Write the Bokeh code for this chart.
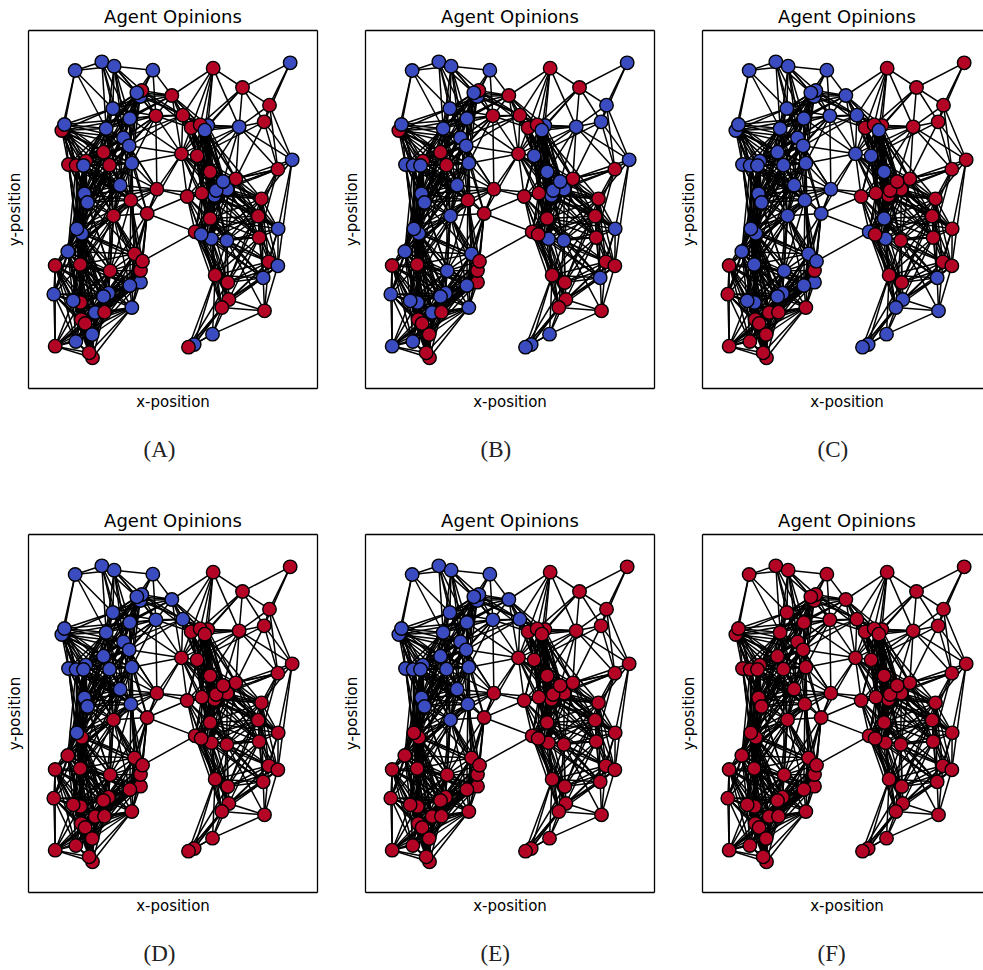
from bokeh.plotting import figure
from bokeh.layouts import column, row
from bokeh.models import Range1d, LinearAxis, FixedTicker, Title, ColumnDataSource
from bokeh.embed import file_html
from bokeh.resources import INLINE

NODE_IDS = [1,2,3,4,5,6,7,8,9,10,11,12,13,14,15,16,17,18,19,20,21,22,23,24,25,26,27,28,29,30,
            31,32,33,34,35,36,37,38,39,40,41,42,43,44,45,46,47,48,49,50,51,52,53,54,56,57,58,59,60,
            61,62,63,64,65,66,67,68,69,70,71,72,73,74,75,76,77,78,79,80,81,82,83,84,85,86,87,88,89,90,
            91,92,93,94,95,96,97,98,99,100]
NODE_X = [140,220,257,373,554,785,642,723,707,632,430,340,335,325,253,304,382,463,108,100,233,488,515,538,529,285,302,225,459,506,
          791,748,545,622,584,596,563,558,520,476,699,385,275,168,177,307,356,120,143,172,165,243,310,255,145,160,118,80,155,
          245,318,342,336,336,304,76,134,156,240,225,200,228,310,158,170,191,142,80,182,192,497,480,552,580,601,598,560,708,704,
          721,748,692,689,749,595,549,518,500,545]
NODE_Y = [120,94,107,119,113,97,171,224,274,289,195,180,198,187,234,264,256,254,282,300,294,292,283,285,299,322,346,365,370,376,
          388,416,424,445,453,476,480,495,488,498,505,476,464,490,516,509,549,402,405,392,405,404,398,556,595,609,663,705,702,
          721,670,692,720,755,765,791,811,816,788,798,846,845,831,867,879,912,933,947,967,982,942,950,911,831,807,756,734,841,742,
          694,706,621,557,595,630,625,612,604,564]

DRAW_ORDER = [1,2,3,4,5,6,7,8,9,10,11,13,12,14,15,16,17,18,20,19,21,22,24,23,25,26,27,28,29,30,31,32,33,34,
              38,36,37,35,39,40,41,42,43,44,45,46,47,48,50,49,51,52,53,54,57,56,58,59,60,61,65,64,62,63,66,67,
              69,68,70,71,72,73,74,75,76,77,78,79,81,80,82,83,84,86,85,87,88,89,90,91,92,93,94,95,96,97,99,98,100]

BLUE_A = [1,2,3,4,6,10,13,14,15,16,19,21,24,25,26,27,31,35,36,37,38,43,44,45,51,53,56,57,58,65,66,67,68,70,71,72,74,77,78,82,84,90,92,95,96,97,98]
BLUE_B = [1,2,3,4,6,8,9,10,13,14,15,16,19,21,24,25,26,27,30,31,33,35,36,37,38,43,44,45,48,49,51,53,54,56,57,58,61,62,66,67,68,69,70,71,72,74,78,79,82,83,84,90,95,96,97]
BLUE_C = [1,2,3,4,11,12,13,14,15,16,17,18,19,20,21,25,26,27,28,29,30,33,42,43,44,45,46,47,48,49,50,51,52,53,54,56,57,58,60,61,62,63,65,66,68,69,70,71,82,83,84,85,86,89,90,97,99,100]
BLUE_D = [1,2,3,4,11,12,13,14,15,16,17,18,19,20,21,26,27,28,43,44,45,46,48,49,50,51,52,53,56]
BLUE_E = [1,2,3,4,11,12,13,14,15,16,17,18,19,20,21,26,27,28,43,44,45,46,48,49,50,51,52,53,54]
BLUE_F = []
PANELS = [("(A)", BLUE_A), ("(B)", BLUE_B), ("(C)", BLUE_C), ("(D)", BLUE_D), ("(E)", BLUE_E), ("(F)", BLUE_F)]

ADJ = {
 1:[2,3,15,19,21,20],
 2:[3,14,15,21,16,26],
 3:[4,12,13,14,15,16,21,26,27],
 4:[11,12,13,14,17],
 5:[7,10,11,18,22,23,24,25],
 6:[7,8,9],
 7:[8,9,10,24,25,23],
 8:[9,10,31,32],
 9:[10,31,32,34,30],
 10:[22,23,24,25,29,30,31,32,33,34,35],
 11:[12,13,14,15,16,17,18,22,23,24,25,21,29,30],
 12:[13,14,15,16,17,18,21,26,27,22],
 13:[14,15,16,17,18,21,26,27,28,52,53],
 14:[15,16,17,18,21,26,27,28,52,53,50],
 15:[16,17,19,20,21,26,27,28,50,51],
 16:[17,18,19,20,21,26,27,28,29,52,53,50],
 17:[18,21,22,26,27,28,29,42,53,52],
 18:[22,23,24,25,26,27,29,30,33,35],
 19:[20,21,26,28,48,49,50,51,44,45,52],
 20:[21,28,44,45,48,49,50,51,52,26,27,53,43],
 21:[26,27,28,43,44,45,46,48,49,50,51,52,53,54],
 22:[23,24,25,29,30,33,35,36,37,38,39,100],
 23:[24,25,29,30,33,34,35,36,37,38,39,100],
 24:[25,30,33,34,35,36,37,38,39,100],
 25:[29,30,33,34,35,36,37,38,39,40,41,100],
 26:[27,28,42,43,44,45,46,48,49,50,51,52,53,54],
 27:[28,29,42,43,44,45,46,48,49,50,51,52,53,47,54,56],
 28:[43,44,45,46,48,49,50,51,52,53,54,56,57],
 29:[30,33,37,38,39,40,42,53,36,47,100],
 30:[33,35,36,37,38,39,40,34,100],
 31:[32,41,95,34,92],
 32:[34,35,36,41,94,93,37],
 33:[34,35,36,37,38,39,40,41,94,100,96,97,98,99],
 34:[35,36,37,38,39,41,93,94,95,100,96,97],
 35:[36,37,38,39,41,93,94,95,100,97,98],
 36:[37,38,39,41,93,94,95,96,97,100,98,99],
 37:[38,39,40,41,93,94,95,96,97,98,99,100],
 38:[39,40,41,93,94,95,96,97,98,99,100],
 39:[40,41,42,88,93,94,96,97,98,99,100],
 40:[42,47,88,97,98,99,100,96],
 41:[87,90,91,92,93,94,95,96,100,97],
 42:[43,44,45,46,47,52,53,54,62],
 43:[44,45,46,47,48,49,50,51,52,53,54,56,57,58,60],
 44:[45,46,48,49,50,51,52,53,54,56,57,58,60,61],
 45:[46,48,49,50,51,52,53,54,56,57,58,60,61,62],
 46:[47,48,49,50,51,52,53,54,56,57,58,60,61,62,63,64,65,66],
 47:[53,54,61,62,63,64,65,66,99,40],
 48:[49,50,51,52,56,57,43,60],
 49:[50,51,52,56,57,58,60],
 50:[51,52,53,56,57,54,60,58],
 51:[52,53,54,56,57,58,60],
 52:[53,54,56,57,58,60,61],
 53:[54,56,57,62],
 54:[56,57,58,59,60,61,62,63,64,66,65,68,70,71],
 56:[57,58,59,60,61,62,67,68,69,70,71,72,73,75,76],
 57:[58,59,60,61,62,63,66,67,68,69,70,71,72,73,75,76,77],
 58:[59,60,61,62,67,68,69,70,71,72,66,75,76,77],
 59:[60,61,67,68,69,70,71,72,75,76,77,78,79,80],
 60:[61,62,66,67,68,69,70,71,72,73,75,76,74,65,77],
 61:[62,63,64,65,66,68,69,70,71,72,73,74,75,76],
 62:[63,64,65,66,70,71,73,74,72],
 63:[64,65,66,70,71,73,74,99],
 64:[65,66,70,71,72,73,74,75],
 65:[66,70,71,72,73,74,76,77],
 66:[70,71,72,73,74,75,76,77,68,69],
 67:[68,69,70,71,72,73,75,76,78,79,77],
 68:[69,71,72,73,75,76,77,78,79,80],
 69:[70,71,72,73,75,76,77,78,79,80,81],
 70:[71,72,73,74,75,76,77,78],
 71:[72,73,74,75,76,77,78,80],
 72:[73,74,75,76,77,78,79,80,81],
 73:[74,75,76,77,78,79,80,81],
 74:[75,76,77,79,80,81],
 75:[76,77,78,79,80,81],
 76:[77,78,79,80,81],
 77:[78,79,80,81],
 78:[79,80,81],
 79:[80,81],
 80:[81],
 82:[83,84,85,86,88],
 83:[84,85,86,87,88],
 84:[85,86,88,89],
 85:[86,87,88,89,90,91],
 86:[87,88,89,90,91,92,93],
 87:[88,90,91,92,93,94,96,97,98,99],
 88:[90,91,93,94,96,97,98,99,100],
 89:[90,91,92,96],
 90:[91,92,93,94,95,96,97],
 91:[92,93,94,95,96,97],
 92:[93,94,95,96],
 93:[94,95,96,97,100],
 94:[95,96,97,98,100],
 95:[96,100],
 96:[85,86,97,98,99,100],
 97:[85,86,98,99,100],
 98:[85,86,90,99,100],
 99:[85,86,100],
 100:[87,90,91],
}

RED = "#b40426"
BLUE = "#3b4cc0"
pos = {n: (x, y) for n, x, y in zip(NODE_IDS, NODE_X, NODE_Y)}
pairs = sorted({(min(a, b), max(a, b)) for a, bs in ADJ.items() for b in bs})
edge_src = dict(x0=[pos[a][0] for a, b in pairs], y0=[pos[a][1] for a, b in pairs],
                x1=[pos[b][0] for a, b in pairs], y1=[pos[b][1] for a, b in pairs])


def blank_axis(**kw):
    return LinearAxis(ticker=FixedTicker(ticks=[]), major_label_text_font_size="0px",
                      major_tick_line_color=None, minor_tick_line_color=None,
                      major_tick_in=0, major_tick_out=0, major_label_standoff=0,
                      axis_line_color="black", axis_line_width=1.3, **kw)


def panel(caption, blue, standoff):
    p = figure(width=337, height=504, output_backend="svg", toolbar_location=None,
               x_range=Range1d(0, 867), y_range=Range1d(1074, 0),
               x_axis_location=None, y_axis_location=None,
               min_border_left=28, min_border_right=20,
               min_border_top=30, min_border_bottom=116,
               background_fill_color="white", border_fill_color="white",
               outline_line_color=None, tools="")
    p.grid.visible = False
    p.title.text = "Agent Opinions"
    p.title.align = "center"
    p.title.text_font = "DejaVu Sans"
    p.title.text_font_size = "18px"
    p.title.text_font_style = "normal"
    p.title.text_color = "black"
    p.title.standoff = 7
    p.title.offset = 0

    below = blank_axis(axis_label="x-position", axis_label_text_font="DejaVu Sans",
                       axis_label_text_font_size="15px", axis_label_text_font_style="normal",
                       axis_label_text_color="black", axis_label_standoff=4)
    left = blank_axis(axis_label="y-position", axis_label_text_font="DejaVu Sans",
                      axis_label_text_font_size="15px", axis_label_text_font_style="normal",
                      axis_label_text_color="black", axis_label_standoff=5)
    p.add_layout(below, "below")
    p.add_layout(left, "left")
    p.add_layout(blank_axis(), "above")
    p.add_layout(blank_axis(), "right")

    p.add_layout(Title(text=caption, align="left", offset=115,
                       text_font="Liberation Serif", text_font_size="23px",
                       text_font_style="normal", text_color="#222222", standoff=standoff), "below")

    p.segment("x0", "y0", "x1", "y1", source=ColumnDataSource(edge_src),
              line_color="black", line_width=1.5)
    order = [NODE_IDS.index(n) for n in DRAW_ORDER]
    src = ColumnDataSource(dict(
        x=[NODE_X[i] for i in order], y=[NODE_Y[i] for i in order],
        c=[BLUE if NODE_IDS[i] in blue else RED for i in order]))
    p.scatter("x", "y", source=src, size=13.5, fill_color="c", line_color="black", line_width=1.4)
    return p


top = row(*[panel(c, b, 42) for c, b in PANELS[:3]], spacing=0)
bot = row(*[panel(c, b, 42) for c, b in PANELS[3:]], spacing=0)
page = column(top, bot, spacing=0, width=983, height=970, styles={"overflow": "hidden"})
open("out.html", "w").write(file_html(page, INLINE))
